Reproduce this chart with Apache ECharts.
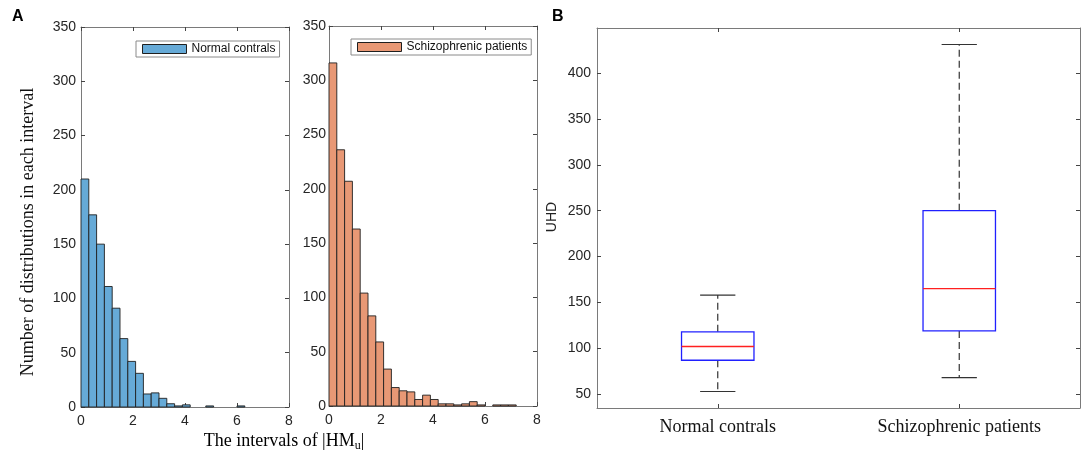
<!DOCTYPE html>
<html>
<head>
<meta charset="utf-8">
<style>
  html, body { margin: 0; padding: 0; background: #fff; }
  #main { width: 1084px; height: 453px; }
</style>
<script src="https://cdn.jsdelivr.net/npm/echarts@6/dist/echarts.min.js"></script>
</head>
<body>
<div id="main"></div>
<script>
// histogram bins: width 0.3 starting at 0
const binWidth = 0.3
const normalCounts = [210, 177, 150, 111, 91, 63, 42, 31, 12, 13, 8, 3, 1, 2, 0, 0, 1, 0, 0, 0, 1]
const patientCounts = [316, 236, 207, 163, 104, 83, 59, 34, 17, 14, 13, 6, 10, 6, 2, 2, 1, 2, 4, 1, 0, 1, 1, 1]
const histXTicks = [0, 2, 4, 6, 8]

// boxplot stats: [lower whisker, Q1, median, Q3, upper whisker]
const boxCategories = ['Normal contrals', 'Schizophrenic patients']
const normalBox = [53, 87, 102, 118, 158]
const patientBox = [68, 119, 165, 250, 431]
const uhdTicks = [50, 100, 150, 200, 250, 300, 350, 400]

const blue = '#66AAD7'
const orange = '#E89875'
const frame = '#7a7a7a'
const sans = 'Liberation Sans, Arial, sans-serif'
const serif = 'Liberation Serif, Times New Roman, serif'

const toBins = (counts) => counts.map((c, i) => [i * binWidth, (i + 1) * binWidth, c])

const histRender = (fill) => (params, api) => {
    if (api.value(2) <= 0) return null
    const p0 = api.coord([api.value(0), api.value(2)])
    const p1 = api.coord([api.value(1), 0])
    return {
        type: 'rect',
        shape: { x: p0[0], y: p0[1], width: p1[0] - p0[0], height: p1[1] - p0[1] },
        style: { fill: fill, stroke: '#1f1f1f', lineWidth: 0.9 }
    }
}

const boxRender = (params, api) => {
    const idx = api.value(0)
    const band = api.size([1, 0])[0]
    const x = api.coord([idx, 0])[0]
    const y = (v) => api.coord([idx, v])[1]
    const half = band * 0.15
    const cap = band * 0.073
    const lo = y(api.value(1)), q1 = y(api.value(2)), med = y(api.value(3)), q3 = y(api.value(4)), hi = y(api.value(5))
    const dash = { stroke: '#333', lineWidth: 1.2, lineDash: [7, 4] }
    const solid = { stroke: '#333', lineWidth: 1.2 }
    return {
        type: 'group',
        children: [
            { type: 'line', shape: { x1: x, y1: q3, x2: x, y2: hi }, style: dash },
            { type: 'line', shape: { x1: x, y1: q1, x2: x, y2: lo }, style: dash },
            { type: 'line', shape: { x1: x - cap, y1: hi, x2: x + cap, y2: hi }, style: solid },
            { type: 'line', shape: { x1: x - cap, y1: lo, x2: x + cap, y2: lo }, style: solid },
            { type: 'rect', shape: { x: x - half, y: q3, width: half * 2, height: q1 - q3 }, style: { fill: 'none', stroke: '#2020ff', lineWidth: 1.3 } },
            { type: 'line', shape: { x1: x - half, y1: med, x2: x + half, y2: med }, style: { stroke: '#ff2020', lineWidth: 1.3 } }
        ]
    }
}

const tick = { show: true, inside: true, length: 4, lineStyle: { color: '#444' } }
const line = { show: true, onZero: false, lineStyle: { color: frame, width: 1 } }
const label = { color: '#262626', fontSize: 14, fontFamily: sans }

const histX = (grid, top) => ({
    type: 'value', gridIndex: grid, position: top ? 'top' : 'bottom',
    min: 0, max: 8, interval: 2,
    axisLine: line, axisTick: tick, splitLine: { show: false },
    axisLabel: top ? { show: false } : Object.assign({ margin: 7 }, label)
})
const histY = (grid, right, margin) => ({
    type: 'value', gridIndex: grid, position: right ? 'right' : 'left',
    min: 0, max: 350, interval: 50,
    axisLine: line, axisTick: tick, splitLine: { show: false },
    axisLabel: right ? { show: false } : Object.assign({ margin: margin }, label)
})
const boxX = (top) => ({
    type: 'category', gridIndex: 2, position: top ? 'top' : 'bottom',
    data: boxCategories, boundaryGap: true,
    axisLine: line, axisTick: Object.assign({ alignWithLabel: true, interval: 0 }, tick),
    axisLabel: top ? { show: false } : { margin: 10, color: '#111', fontSize: 18, fontFamily: serif, interval: 0 }
})
const boxY = (right) => ({
    type: 'value', gridIndex: 2, position: right ? 'right' : 'left',
    min: 35, max: 449,
    axisLine: line,
    axisTick: Object.assign({ customValues: uhdTicks }, tick),
    splitLine: { show: false },
    axisLabel: right ? { show: false } : Object.assign({ margin: 6, customValues: uhdTicks }, label)
})

const legendBase = {
    orient: 'horizontal', icon: 'rect', itemWidth: 44, itemHeight: 9,
    padding: [2, 4, 2, 6], borderColor: '#8a8a8a', borderWidth: 1, backgroundColor: '#fff',
    itemStyle: { borderColor: '#1f1f1f', borderWidth: 1 },
    textStyle: { color: '#111', fontSize: 12, fontFamily: sans }
}

const myChart = echarts.init(document.getElementById('main'), null, { renderer: 'canvas' })
myChart.setOption({
    animation: false,
    backgroundColor: '#fff',
    grid: [
        { left: 81, width: 208, top: 27, height: 380 },
        { left: 329, width: 208, top: 26, height: 380 },
        { left: 597, right: 4, top: 28, height: 380 }
    ],
    xAxis: [histX(0, false), histX(0, true), histX(1, false), histX(1, true), boxX(false), boxX(true)],
    yAxis: [histY(0, false, 5), histY(0, true), histY(1, false, 3), histY(1, true), boxY(false), boxY(true)],
    legend: [
        Object.assign({ left: 136, top: 41, data: [{ name: 'Normal contrals', itemStyle: { color: blue } }] }, legendBase),
        Object.assign({ left: 351, top: 39, data: [{ name: 'Schizophrenic patients', itemStyle: { color: orange } }] }, legendBase)
    ],
    series: [
        {
            name: 'Normal contrals', type: 'custom', xAxisIndex: 0, yAxisIndex: 0,
            itemStyle: { color: blue }, encode: { x: [0, 1], y: 2 },
            renderItem: histRender(blue), data: toBins(normalCounts)
        },
        {
            name: 'Schizophrenic patients', type: 'custom', xAxisIndex: 2, yAxisIndex: 2,
            itemStyle: { color: orange }, encode: { x: [0, 1], y: 2 },
            renderItem: histRender(orange), data: toBins(patientCounts)
        },
        {
            name: 'UHD', type: 'custom', xAxisIndex: 4, yAxisIndex: 4,
            encode: { x: 0, y: [1, 2, 3, 4, 5] },
            renderItem: boxRender,
            data: [normalBox, patientBox].map((s, i) => [i].concat(s))
        }
    ],
    graphic: [
        { type: 'text', left: 12, top: 9, style: { text: 'A', font: 'bold 16px ' + sans, fill: '#000' } },
        { type: 'text', left: 552, top: 9, style: { text: 'B', font: 'bold 16px ' + sans, fill: '#000' } },
        {
            type: 'text', x: 28, y: 232, rotation: Math.PI / 2,
            style: { text: 'Number of distributions in each interval', font: '18px ' + serif, fill: '#111', align: 'center', verticalAlign: 'middle' }
        },
        {
            type: 'text', x: 552, y: 217, rotation: Math.PI / 2,
            style: { text: 'UHD', font: '14px ' + sans, fill: '#222', align: 'center', verticalAlign: 'middle' }
        },
        {
            type: 'text', x: 284, y: 441,
            style: {
                text: '{a|The intervals of |HM}{s|u}{a||}',
                align: 'center', verticalAlign: 'middle',
                rich: {
                    a: { fontSize: 18, fontFamily: serif, color: '#111', lineHeight: 22, verticalAlign: 'middle' },
                    s: { fontSize: 12, fontFamily: serif, color: '#111', lineHeight: 12, verticalAlign: 'bottom' }
                }
            }
        }
    ]
})
</script>
</body>
</html>
